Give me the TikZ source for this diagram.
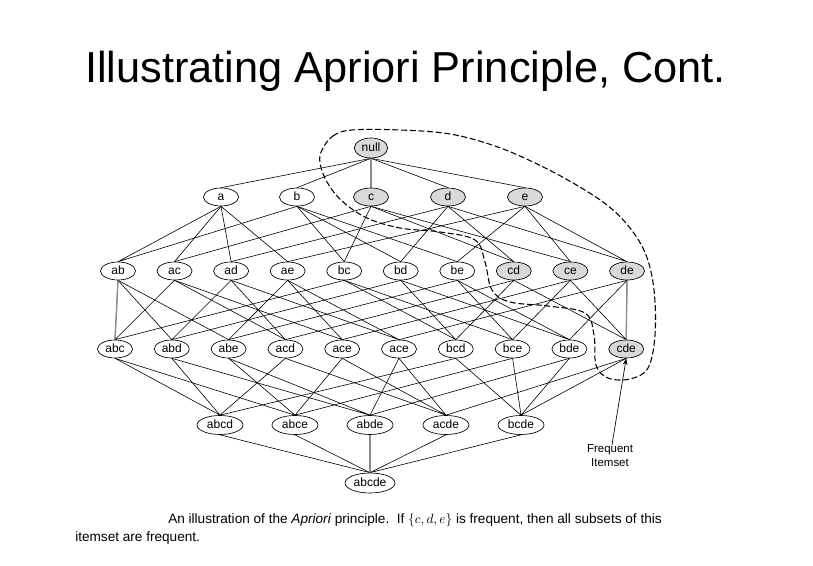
\documentclass[tikz,border=0pt]{standalone}
\usepackage{fontspec}
\setmainfont{Liberation Sans}
\usetikzlibrary{arrows.meta,shapes.geometric}
\pgfdeclarelayer{bg}
\pgfdeclarelayer{paper}
\pgfsetlayers{paper,bg,main}
\begin{document}
\begin{tikzpicture}[x=0.75pt,y=-0.75pt,
  itm/.style={draw=black, line width=0.5pt, ellipse, inner sep=0pt,
    minimum width=26.25pt, minimum height=13.5pt, fill=white,
    text height=6.3pt, text depth=1.6pt,
    font=\fontsize{9}{10}\selectfont},
  nullnode/.style={itm, minimum width=25pt, minimum height=15pt},
  wide/.style={itm, minimum width=34.5pt, minimum height=14.25pt},
  widest/.style={itm, minimum width=37.5pt, minimum height=15pt},
  freq/.style={fill=black!15},
  lnk/.style={line width=0.45pt, black},
  vlnk/.style={line width=1pt, black!45},
  border/.style={line width=0.8pt, dash pattern=on 4.5pt off 2pt},
  ptr/.style={line width=0.5pt, -{Stealth[length=5pt,width=3.5pt]}},
  ttl/.style={anchor=base west, inner sep=0pt, font=\fontsize{32.5}{36}\selectfont},
  captxt/.style={anchor=base west, inner sep=0pt, font=\fontsize{10.2}{12}\selectfont},
  note/.style={align=center, inner sep=0pt, font=\fontsize{8.6}{10.5}\selectfont}
]
\begin{pgfonlayer}{paper}
\fill[white] (0,0) rectangle (813,566);
\end{pgfonlayer}
\useasboundingbox (0,0) rectangle (813,566);

\node[ttl] (title) at (85,83) {Illustrating Apriori Principle, Cont.};

% level 0
\node[nullnode, freq] (null) at (371,148) {null};
% level 1
\node[itm] (a) at (221,197) {a};
\node[itm] (b) at (297,197) {b};
\node[itm, freq] (c) at (371,197) {c};
\node[itm, freq] (d) at (448,197) {d};
\node[itm, freq] (e) at (525,197) {e};
% level 2
\node[itm] (ab) at (118,271) {ab};
\node[itm] (ac) at (174.5,271) {ac};
\node[itm] (ad) at (231.1,271) {ad};
\node[itm] (ae) at (287.6,271) {ae};
\node[itm] (bc) at (344.2,271) {bc};
\node[itm] (bd) at (400.7,271) {bd};
\node[itm] (be) at (457.3,271) {be};
\node[itm, freq] (cd) at (513.8,271) {cd};
\node[itm, freq] (ce) at (570.4,271) {ce};
\node[itm, freq] (de) at (627,271) {de};
% level 3
\node[itm] (abc) at (115,349) {abc};
\node[itm] (abd) at (171.8,349) {abd};
\node[itm] (abe) at (228.6,349) {abe};
\node[itm] (acd) at (285.4,349) {acd};
\node[itm] (ace) at (342.2,349) {ace};
\node[itm] (ade) at (399,349) {ace};
\node[itm] (bcd) at (455.8,349) {bcd};
\node[itm] (bce) at (512.6,349) {bce};
\node[itm] (bde) at (569.4,349) {bde};
\node[itm, freq] (cde) at (626.2,349) {cde};
% level 4
\node[wide] (abcd) at (220,425) {abcd};
\node[wide] (abce) at (295,425) {abce};
\node[wide] (abde) at (370,425) {abde};
\node[wide] (acde) at (446,425) {acde};
\node[wide] (bcde) at (521,425) {bcde};
% level 5
\node[widest] (abcde) at (370,483) {abcde};

\begin{pgfonlayer}{bg}
  \foreach \p in {a,b,c,d,e} \draw[lnk] (null.south) -- (\p.north);
  \foreach \ch/\p/\q in {ab/a/b, ac/a/c, ad/a/d, ae/a/e, bc/b/c, bd/b/d, be/b/e, cd/c/d, ce/c/e, de/d/e}
    \draw[lnk] (\p.south) -- (\ch.north) (\q.south) -- (\ch.north);
  \foreach \ch/\p/\q/\r in {abc/ab/ac/bc, abd/ab/ad/bd, abe/ab/ae/be, acd/ac/ad/cd, ace/ac/ae/ce,
      ade/ad/ae/de, bcd/bc/bd/cd, bce/bc/be/ce, bde/bd/be/de, cde/cd/ce/de}
    \draw[lnk] (\p.south) -- (\ch.north) (\q.south) -- (\ch.north) (\r.south) -- (\ch.north);
  \foreach \ch/\p/\q/\r/\s in {abcd/abc/abd/acd/bcd, abce/abc/abe/ace/bce, abde/abd/abe/ade/bde,
      acde/acd/ace/ade/cde, bcde/bcd/bce/bde/cde}
    \draw[lnk] (\p.south) -- (\ch.north) (\q.south) -- (\ch.north) (\r.south) -- (\ch.north) (\s.south) -- (\ch.north);
  \foreach \p in {abcd,abce,abde,acde,bcde} \draw[lnk] (\p.south) -- (abcde.north);
  \draw[vlnk] (null.south) -- (c.north);
  \draw[vlnk] (ab.south) -- (abc.north);
  \draw[vlnk] (de.south) -- (cde.north);
  \draw[vlnk] (abde.south) -- (abcde.north);
\end{pgfonlayer}

% frequent itemset boundary
\draw[border] plot[smooth cycle, tension=0.6] coordinates {
  (322,150) (333,136) (352,130) (400,130) (450,134) (495,146) (535,163)
  (573,183) (607,205) (630,228) (646,255) (654,290) (655,335) (648,368)
  (630,379) (608,378) (596,365) (594,335) (585,313) (548,306) (510,302)
  (492,290) (485,262) (475,240) (440,232) (400,228) (367,218) (342,201)
  (327,182) (320,163)};

\node[note] (fi) at (610,456) {Frequent\\Itemset};
\draw[ptr] ([xshift=1.5pt]fi.north) -- (cde.south);

\node[captxt] (cap1) at (168,523) {An illustration of the \textit{Apriori} principle.\ \ If $\{c,d,e\}$ is frequent, then all subsets of this};
\node[captxt] (cap2) at (75,541) {itemset are frequent.};
\end{tikzpicture}
\end{document}
